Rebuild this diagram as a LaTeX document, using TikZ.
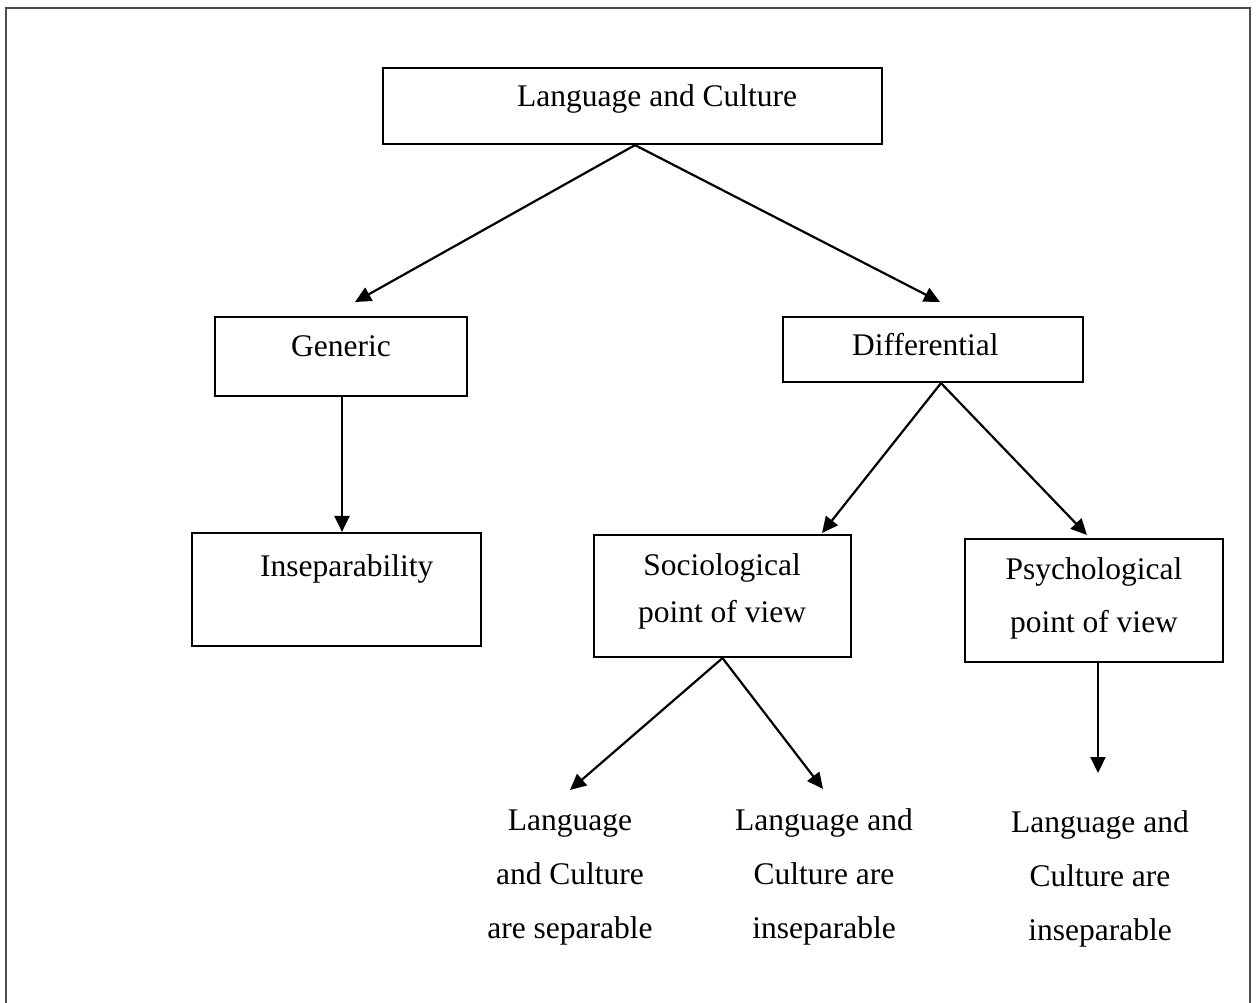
\documentclass[tikz,border=0pt]{standalone}
\usepackage{fontspec}
\setmainfont{Liberation Serif}
\usetikzlibrary{arrows.meta}
\begin{document}
\begin{tikzpicture}[x=1pt,y=-1pt,
  frame/.style={draw=black!70, line width=2.5pt},
  box/.style={draw=black, line width=2.2pt, inner sep=0pt, rectangle},
  txt/.style={font=\fontsize{31.5}{54}\selectfont, inner sep=0pt, align=center},
  link/.style={draw=black, line width=2.2pt, -{Triangle[length=16pt,width=15pt]}}
]
\useasboundingbox (0,0) rectangle (1256,1003);
% page frame, open at the bottom
\draw[frame] (6,1003) -- (6,8) -- (1250,8) -- (1250,1003);

% boxes
\node[box, minimum width=499pt, minimum height=76pt]  (top)   at (632.5,106)   {};
\node[box, minimum width=252pt, minimum height=79pt]  (gen)   at (341,356.5)   {};
\node[box, minimum width=300pt, minimum height=65pt]  (diff)  at (933,349.5)   {};
\node[box, minimum width=289pt, minimum height=113pt] (insep) at (336.5,589.5) {};
\node[box, minimum width=257pt, minimum height=122pt] (soc)   at (722.5,596)   {};
\node[box, minimum width=258pt, minimum height=123pt] (psy)   at (1094,600.5)  {};

% box texts (multi-line texts are placed by the baseline of their last line)
\node[txt, anchor=base west] (toptxt)   at (517,107) {Language and Culture};
\node[txt, anchor=base west] (gentxt)   at (291,356) {Generic};
\node[txt, anchor=base west] (difftxt)  at (852,355) {Differential};
\node[txt, anchor=base west] (inseptxt) at (260,576) {Inseparability};
\node[txt, anchor=base, font=\fontsize{31.5}{47}\selectfont] (soctxt) at (722,622) {Sociological\\point of view};
\node[txt, anchor=base, font=\fontsize{31.5}{53}\selectfont] (psytxt) at (1094,632) {Psychological\\point of view};

% leaf texts
\node[txt, anchor=base] (leafa) at (570,938)  {Language\\and Culture\\are separable};
\node[txt, anchor=base] (leafb) at (824,938)  {Language and\\Culture are\\inseparable};
\node[txt, anchor=base] (leafc) at (1100,940) {Language and\\Culture are\\inseparable};

% arrow targets
\coordinate (gin) at (355,302);
\coordinate (din) at (940,302);
\coordinate (sin) at (822,533);
\coordinate (pin) at (1087,535);
\coordinate (ain) at (570,790);
\coordinate (bin) at (823,789);
\coordinate (cin) at (1098,773);

% connectors
\draw[link] ([xshift=2.5pt]top.south) -- (gin);
\draw[link] ([xshift=2.5pt]top.south) -- (din);
\draw[link] ([xshift=1pt]gen.south) -- ([xshift=1pt]gen.south |- insep.north);
\draw[link] ([xshift=8pt]diff.south) -- (sin);
\draw[link] ([xshift=8pt]diff.south) -- (pin);
\draw[link] (soc.south) -- (ain);
\draw[link] (soc.south) -- (bin);
\draw[link] ([xshift=4pt]psy.south) -- (cin);
\end{tikzpicture}
\end{document}
